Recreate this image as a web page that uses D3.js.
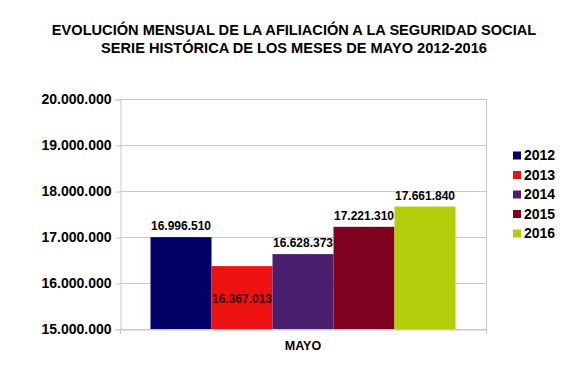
<!DOCTYPE html>
<html><head><meta charset="utf-8">
<script src="https://cdn.jsdelivr.net/npm/d3@7"></script>
<style>body{margin:0;background:#fff}svg{display:block}text{font-family:"Liberation Sans",Arial,sans-serif;font-weight:bold;fill:#000}</style>
</head><body><svg id="c" width="570" height="371"></svg>
<script>
const titleLines = ["EVOLUCIÓN MENSUAL DE LA  AFILIACIÓN A LA SEGURIDAD SOCIAL", "SERIE HISTÓRICA DE LOS MESES DE MAYO 2012-2016"];
const category = ["MAYO"];
const years = ["2012", "2013", "2014", "2015", "2016"];
const values = [16996510, 16367013, 16628373, 17221310, 17661840];
const colors = ["#000066", "#ee1111", "#4a1f6e", "#80001f", "#b3cf0c"];
const yTicks = [15000000, 16000000, 17000000, 18000000, 19000000, 20000000];

const svg = d3.select("#c");
const fmt = v => d3.format(",")(v).replace(/,/g, ".");
const L = 120, R = 486, T = 99, B = 329;

const y = d3.scaleLinear().domain([15000000, 20000000]).range([B, T]);
const x0 = d3.scaleBand().domain(category).range([L, R]).paddingInner(0).paddingOuter(0.1);
const x1 = d3.scaleBand().domain(years).range([0, x0.bandwidth()]);

// title
svg.append("g").selectAll("text").data(titleLines).join("text")
  .attr("x", 294).attr("y", (d, i) => 34.5 + i * 18)
  .attr("text-anchor", "middle").style("font-size", "14.6px").text(d => d);

// gridlines
svg.append("g").selectAll("line").data(yTicks).join("line")
  .attr("x1", L).attr("x2", R).attr("y1", d => y(d) + 0.5).attr("y2", d => y(d) + 0.5)
  .attr("stroke", "#c8c8c8");
// right border
svg.append("line").attr("x1", R + 0.5).attr("x2", R + 0.5).attr("y1", T).attr("y2", B + 5).attr("stroke", "#c8c8c8");

// y axis
const yAxis = d3.axisLeft(y).tickValues(yTicks).tickFormat(fmt).tickSize(5).tickPadding(4);
const ya = svg.append("g").attr("transform", `translate(${L + 0.5},0.5)`).call(yAxis);
ya.select(".domain").attr("stroke", "#c8c8c8");
ya.selectAll(".tick line").attr("stroke", "#c8c8c8");
ya.selectAll(".tick text").style("font-size", "14px").style("font-family", "Liberation Sans, Arial, sans-serif").style("font-weight", "bold").attr("fill", "#000");

// x axis
const xAxis = d3.axisBottom(x0).tickSize(0).tickPadding(12);
const xa = svg.append("g").attr("transform", `translate(0,${B + 0.5})`).call(xAxis);
xa.select(".domain").attr("stroke", "#c8c8c8");
xa.selectAll(".tick text").style("font-size", "12.5px").style("font-family", "Liberation Sans, Arial, sans-serif").style("font-weight", "bold").attr("fill", "#000");
svg.append("line").attr("x1", L + 0.5).attr("x2", L + 0.5).attr("y1", B).attr("y2", B + 5).attr("stroke", "#c8c8c8");

// bars
const g = svg.append("g").attr("transform", `translate(${x0("MAYO")},0)`);
g.selectAll("rect").data(values).join("rect")
  .attr("x", (d, i) => x1(years[i])).attr("width", x1.bandwidth())
  .attr("y", d => y(d)).attr("height", d => B - y(d))
  .attr("fill", (d, i) => colors[i]);
g.selectAll("text").data(values).join("text")
  .attr("x", (d, i) => x1(years[i]) + x1.bandwidth() / 2)
  .attr("y", (d, i) => y(d) + (i === 1 ? 37 : -7))
  .attr("text-anchor", "middle").style("font-size", "12px")
  .style("fill", (d, i) => i === 1 ? "#3a0a0a" : "#000")
  .text(d => fmt(d));

// legend
const lg = svg.append("g").selectAll("g").data(years).join("g")
  .attr("transform", (d, i) => `translate(513,${155.5 + i * 19.5})`);
lg.append("rect").attr("x", 0).attr("y", -4).attr("width", 8).attr("height", 8).attr("fill", (d, i) => colors[i]);
lg.append("text").attr("x", 11).attr("y", 4.5).style("font-size", "14px").text(d => d);
</script></body></html>
